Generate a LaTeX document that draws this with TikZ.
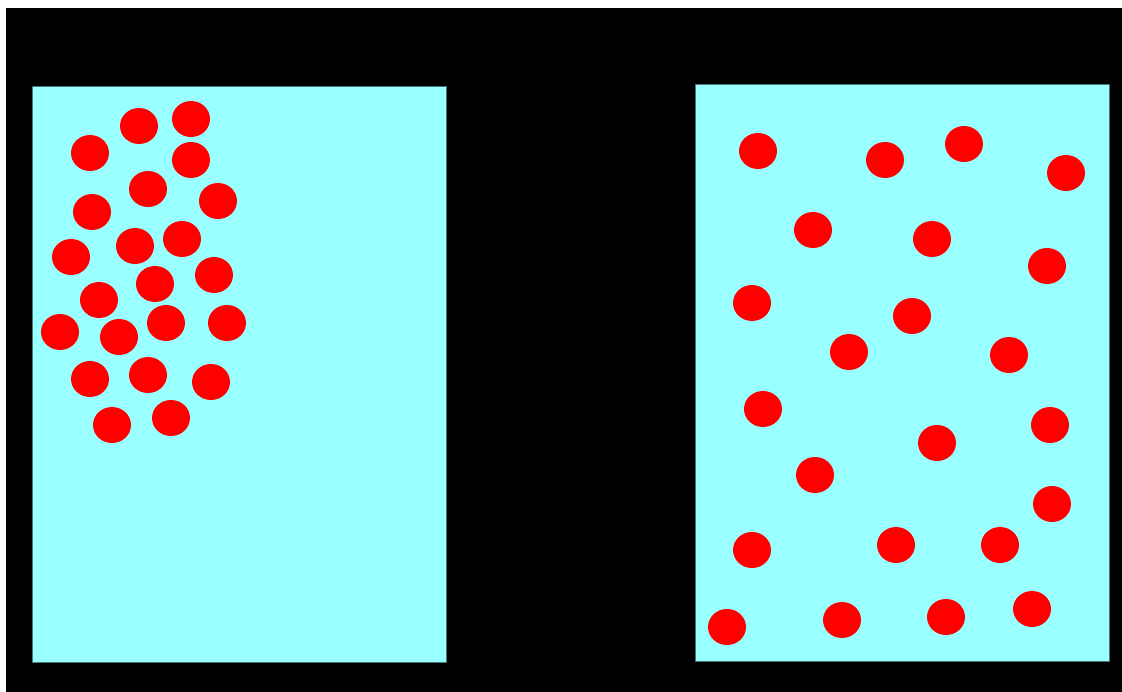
\documentclass[tikz,border=0pt]{standalone}
\usepackage{tikz}

\definecolor{boxcyan}{RGB}{153,255,255}
\definecolor{boxedge}{RGB}{70,120,120}

\begin{document}
\begin{tikzpicture}[x=1pt,y=-1pt,
  box/.style={fill=boxcyan, draw=boxedge, line width=0.8pt},
  particle/.style={fill=red}]
\useasboundingbox (0,0) rectangle (1122,692);
\fill[white] (0,0) rectangle (1122,692);
\fill[black] (6,8) rectangle (1122,692);
% left container: gas packed on one side
\path[box] (32,86) rectangle (446,662);
\fill[particle] (139,126) ellipse (19 and 18);
\fill[particle] (191,119) ellipse (19 and 18);
\fill[particle] (90,153) ellipse (19 and 18);
\fill[particle] (191,160) ellipse (19 and 18);
\fill[particle] (148,189) ellipse (19 and 18);
\fill[particle] (218,201) ellipse (19 and 18);
\fill[particle] (92,212) ellipse (19 and 18);
\fill[particle] (135,246) ellipse (19 and 18);
\fill[particle] (182,239) ellipse (19 and 18);
\fill[particle] (71,257) ellipse (19 and 18);
\fill[particle] (214,275) ellipse (19 and 18);
\fill[particle] (155,284) ellipse (19 and 18);
\fill[particle] (99,300) ellipse (19 and 18);
\fill[particle] (60,332) ellipse (19 and 18);
\fill[particle] (119,337) ellipse (19 and 18);
\fill[particle] (166,323) ellipse (19 and 18);
\fill[particle] (227,323) ellipse (19 and 18);
\fill[particle] (90,379) ellipse (19 and 18);
\fill[particle] (148,375) ellipse (19 and 18);
\fill[particle] (211,382) ellipse (19 and 18);
\fill[particle] (112,425) ellipse (19 and 18);
\fill[particle] (171,418) ellipse (19 and 18);
% right container: gas spread out
\path[box] (695,84) rectangle (1109,661);
\fill[particle] (758,151) ellipse (19 and 18);
\fill[particle] (885,160) ellipse (19 and 18);
\fill[particle] (964,144) ellipse (19 and 18);
\fill[particle] (1066,173) ellipse (19 and 18);
\fill[particle] (813,230) ellipse (19 and 18);
\fill[particle] (932,239) ellipse (19 and 18);
\fill[particle] (1047,266) ellipse (19 and 18);
\fill[particle] (752,303) ellipse (19 and 18);
\fill[particle] (912,316) ellipse (19 and 18);
\fill[particle] (849,352) ellipse (19 and 18);
\fill[particle] (1009,355) ellipse (19 and 18);
\fill[particle] (763,409) ellipse (19 and 18);
\fill[particle] (937,443) ellipse (19 and 18);
\fill[particle] (1050,425) ellipse (19 and 18);
\fill[particle] (815,475) ellipse (19 and 18);
\fill[particle] (1052,504) ellipse (19 and 18);
\fill[particle] (752,550) ellipse (19 and 18);
\fill[particle] (896,545) ellipse (19 and 18);
\fill[particle] (1000,545) ellipse (19 and 18);
\fill[particle] (727,627) ellipse (19 and 18);
\fill[particle] (842,620) ellipse (19 and 18);
\fill[particle] (946,617) ellipse (19 and 18);
\fill[particle] (1032,609) ellipse (19 and 18);
\end{tikzpicture}
\end{document}
